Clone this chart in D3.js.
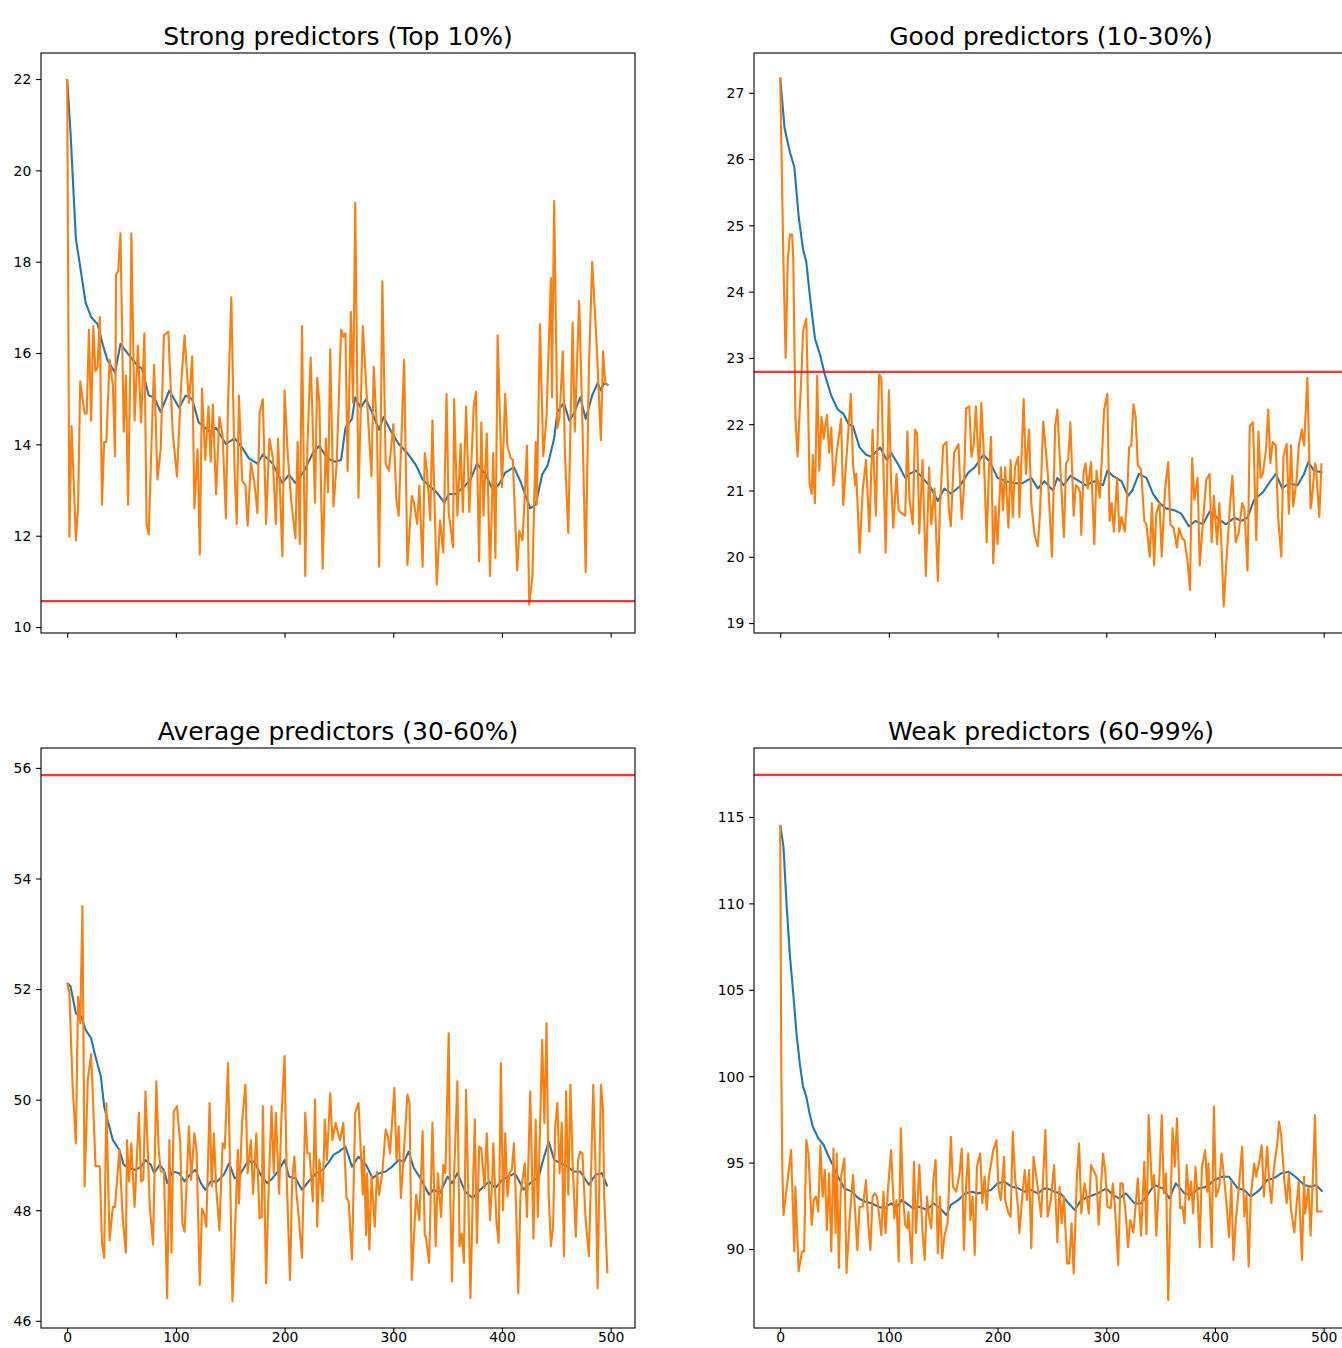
<!DOCTYPE html>
<html>
<head>
<meta charset="utf-8">
<script src="https://cdnjs.cloudflare.com/ajax/libs/d3/7.8.5/d3.min.js"></script>
<style>
body { margin: 0; background: #fff; }
</style>
</head>
<body>
<div id="chart"></div>
<script>
// [iteration, value] pairs
var strongRaw = [[0,22.0],[2,11.98],[4,14.4],[6,13.19],[8,11.9],[10,12.64],[12,15.38],[16,14.68],[18,14.68],[20,16.51],[22,14.52],[24,16.59],[26,15.6],[28,15.7],[30,16.79],[32,12.68],[34,14.05],[36,14.05],[39,15.85],[42,15.3],[44,13.74],[45,17.72],[47,17.8],[49,18.62],[52,14.28],[54,15.5],[56,12.68],[58,15.7],[59,18.62],[62,14.52],[65,16.16],[68,14.48],[71,16.43],[73,12.26],[75,12.03],[79,15.11],[80,15.74],[83,13.23],[86,13.89],[89,16.39],[93,16.47],[97,14.28],[101,13.3],[105,15.38],[108,16.39],[112,14.91],[115,15.93],[117,12.6],[120,13.89],[122,11.59],[124,15.22],[127,13.66],[130,14.83],[132,13.62],[134,14.87],[137,12.91],[140,14.6],[143,14.2],[146,12.38],[148,14.91],[151,17.22],[154,13.4],[156,12.26],[158,15.07],[161,13.2],[164,13.11],[166,12.22],[169,13.6],[172,13.2],[175,12.5],[177,14.68],[180,14.99],[183,12.26],[186,14.13],[189,13.74],[192,12.26],[194,14.13],[198,11.55],[200,15.18],[203,13.74],[206,12.79],[210,11.94],[212,14.05],[214,11.82],[216,16.59],[219,11.12],[221,13.97],[224,15.9],[228,12.72],[230,15.46],[232,14.91],[235,11.28],[238,14.13],[240,12.95],[242,16.08],[245,12.64],[248,13.62],[252,16.51],[254,16.35],[256,16.43],[258,13.42],[261,16.9],[263,14.91],[265,19.29],[268,12.83],[271,15.7],[272,16.59],[276,14.91],[280,13.3],[282,15.7],[285,14.3],[287,11.32],[290,17.57],[293,13.58],[296,13.42],[300,14.44],[303,12.76],[305,12.44],[310,15.85],[313,11.36],[317,12.87],[319,12.72],[322,12.26],[324,13.1],[327,11.32],[329,13.81],[331,13.42],[334,12.34],[336,14.52],[340,10.93],[343,12.34],[346,11.63],[349,15.11],[351,12.5],[355,11.75],[356,14.99],[359,12.44],[362,14.01],[364,12.52],[367,14.83],[370,12.52],[374,14.83],[376,15.15],[379,11.44],[381,14.48],[383,12.44],[386,14.24],[389,11.12],[392,13.81],[394,11.51],[396,16.39],[400,13.07],[403,15.11],[405,13.97],[408,13.7],[410,13.66],[414,11.24],[416,12.1],[419,11.9],[423,13.97],[425,10.49],[428,11.1],[431,14.05],[432,12.68],[435,16.63],[438,13.74],[441,14.6],[445,17.64],[446,15.03],[448,19.33],[451,14.36],[453,14.6],[456,16.04],[458,13.74],[461,12.06],[465,16.67],[467,14.28],[471,17.14],[474,14.52],[477,11.2],[480,15.7],[483,18.0],[487,16.24],[491,14.09],[493,16.04],[495,15.34],[497,15.3]];
var strongSmooth = [[0,22.0],[3,20.85],[8,18.5],[11,18.04],[17,17.1],[22,16.79],[28,16.63],[33,16.16],[37,15.85],[44,15.57],[49,16.2],[54,16.04],[63,15.77],[69,15.65],[75,15.07],[80,15.03],[86,14.71],[94,15.18],[103,14.8],[109,15.07],[115,14.99],[121,14.48],[131,14.28],[137,14.36],[146,14.01],[154,14.13],[161,13.93],[167,13.7],[175,13.58],[180,13.78],[189,13.58],[198,13.15],[204,13.34],[210,13.15],[218,13.42],[226,13.81],[232,13.97],[239,13.7],[246,13.62],[252,13.66],[256,14.36],[262,14.56],[265,15.03],[270,14.8],[275,14.99],[281,14.67],[287,14.32],[291,14.6],[298,14.28],[305,14.01],[313,13.81],[321,13.54],[327,13.23],[334,13.07],[340,12.95],[347,12.72],[351,12.91],[357,12.91],[365,13.07],[371,13.23],[377,13.58],[385,13.34],[391,13.03],[397,13.11],[403,13.38],[411,13.5],[417,13.19],[426,12.6],[431,12.68],[437,13.34],[442,13.54],[448,14.13],[451,14.71],[457,14.91],[462,14.52],[466,14.67],[472,15.03],[477,14.56],[483,15.07],[488,15.34],[491,15.18],[494,15.34],[498,15.3]];

var goodRaw = [[0,27.23],[3,24.42],[5,23.0],[7,24.48],[9,24.86],[11,24.86],[12,24.5],[14,22.11],[16,21.51],[20,22.92],[21,23.4],[24,23.59],[25,22.86],[27,21.11],[29,20.95],[30,21.54],[32,20.81],[34,22.73],[36,21.3],[38,22.11],[40,21.78],[43,22.14],[45,21.57],[47,21.95],[49,21.08],[52,21.57],[56,22.08],[58,20.78],[62,21.73],[65,22.46],[67,21.4],[69,21.08],[70,21.25],[73,20.06],[76,21.03],[79,21.46],[82,20.38],[85,21.92],[86,21.46],[88,20.62],[91,22.75],[93,22.7],[95,21.35],[97,20.06],[100,22.51],[102,21.14],[104,20.44],[107,21.25],[109,20.7],[112,20.65],[115,20.62],[117,21.89],[119,20.86],[122,20.49],[124,21.92],[126,21.86],[128,20.35],[131,21.46],[134,19.71],[137,21.35],[139,20.49],[142,21.03],[145,19.63],[147,20.76],[150,21.68],[153,21.73],[155,20.76],[157,20.46],[160,21.57],[164,21.7],[167,20.57],[169,21.03],[171,22.24],[174,22.27],[176,21.51],[178,21.68],[180,22.27],[183,21.25],[185,22.32],[187,21.68],[190,20.22],[192,21.3],[194,21.81],[196,19.9],[198,20.76],[200,20.19],[203,21.35],[205,20.7],[207,21.35],[210,20.44],[212,21.46],[214,20.6],[216,21.35],[219,21.51],[220,20.6],[224,22.38],[226,21.25],[229,21.92],[231,20.81],[234,20.33],[237,20.16],[239,20.65],[242,22.04],[246,21.3],[250,20.0],[253,21.97],[255,22.22],[258,21.25],[261,20.3],[263,21.41],[265,21.46],[267,22.03],[270,20.62],[272,21.08],[274,21.05],[276,20.97],[277,20.33],[279,21.25],[281,21.41],[283,21.03],[286,21.43],[289,20.19],[291,21.3],[294,20.89],[296,21.49],[298,22.22],[301,22.46],[303,20.54],[305,20.81],[307,20.38],[310,21.19],[312,20.38],[314,20.6],[317,20.38],[319,20.86],[321,21.65],[323,21.68],[325,22.3],[327,22.11],[329,21.38],[332,21.32],[335,20.54],[337,20.49],[340,20.0],[342,20.81],[344,19.87],[346,20.65],[349,20.81],[351,20.0],[354,21.0],[357,21.43],[359,20.49],[362,20.43],[365,20.14],[367,20.43],[370,20.27],[372,20.25],[375,19.9],[377,19.5],[379,21.49],[381,20.86],[384,21.19],[386,19.87],[388,20.33],[392,21.16],[395,21.25],[397,20.22],[399,20.92],[402,20.19],[404,20.81],[406,20.19],[408,19.25],[411,20.06],[414,20.81],[416,21.22],[419,20.22],[422,20.38],[425,20.81],[427,20.73],[430,19.79],[432,21.97],[435,22.03],[438,20.25],[440,21.89],[442,21.19],[444,21.25],[447,21.62],[449,22.22],[451,21.41],[453,21.73],[456,21.68],[458,20.62],[461,20.0],[463,21.51],[466,21.7],[468,20.65],[470,21.68],[472,20.76],[475,21.14],[477,21.65],[480,21.92],[482,21.68],[485,22.7],[488,20.73],[489,20.84],[492,21.41],[493,21.35],[496,20.6],[498,21.41]];
var goodSmooth = [[0,27.23],[4,26.47],[9,26.1],[13,25.88],[17,25.13],[21,24.64],[24,24.45],[28,23.83],[32,23.29],[37,23.03],[41,22.75],[47,22.43],[53,22.22],[58,22.16],[63,22.0],[67,21.97],[73,21.65],[79,21.54],[84,21.51],[92,21.65],[98,21.46],[102,21.57],[109,21.38],[115,21.19],[119,21.25],[125,21.3],[131,21.19],[138,21.06],[145,20.84],[151,21.03],[157,20.95],[165,21.06],[173,21.27],[179,21.35],[187,21.54],[193,21.43],[200,21.19],[208,21.14],[216,21.11],[223,21.11],[231,21.19],[237,21.03],[243,21.14],[251,21.0],[255,21.19],[261,21.08],[267,21.22],[275,21.14],[281,21.08],[289,21.14],[297,21.08],[301,21.3],[306,21.22],[314,21.14],[320,20.92],[324,21.0],[330,21.25],[337,21.19],[343,20.95],[349,20.81],[355,20.73],[363,20.7],[369,20.65],[376,20.46],[382,20.54],[389,20.49],[395,20.68],[402,20.59],[410,20.49],[418,20.59],[424,20.54],[430,20.59],[436,20.86],[444,20.97],[451,21.14],[456,21.25],[462,21.03],[468,21.11],[476,21.08],[482,21.25],[486,21.43],[491,21.3],[499,21.27]];

var avgRaw = [[0,52.11],[2,51.93],[5,50.25],[8,49.21],[10,51.86],[12,51.38],[14,53.5],[16,48.43],[19,50.37],[22,50.82],[24,49.89],[26,48.8],[28,48.8],[30,48.79],[32,47.41],[34,47.14],[36,49.94],[39,47.46],[42,48.06],[44,48.06],[48,49.09],[51,47.88],[54,47.23],[55,49.27],[57,48.52],[59,49.21],[62,48.06],[66,49.76],[68,48.52],[70,48.55],[72,50.15],[74,49.15],[76,48.06],[79,47.38],[82,50.33],[84,49.15],[86,48.7],[89,48.7],[92,46.41],[94,49.27],[96,47.23],[98,49.79],[101,49.88],[104,49.21],[106,47.76],[108,47.61],[112,49.52],[114,48.55],[117,49.39],[119,49.09],[122,46.65],[124,48.03],[126,47.94],[128,47.7],[131,49.94],[133,48.43],[135,49.39],[137,48.43],[140,47.64],[143,49.21],[145,49.12],[148,50.66],[150,48.55],[152,46.35],[154,47.41],[157,49.09],[158,48.12],[161,49.64],[164,50.27],[166,48.67],[169,49.27],[171,48.3],[174,49.39],[177,47.85],[179,47.88],[180,49.88],[183,46.68],[185,48.16],[188,49.88],[190,48.67],[192,49.76],[195,48.3],[197,49.64],[200,50.79],[202,48.55],[205,46.74],[207,48.55],[209,48.97],[211,48.3],[213,47.88],[216,47.14],[219,49.76],[221,49.03],[223,49.03],[226,48.16],[228,50.0],[230,47.7],[232,48.91],[235,48.16],[237,49.64],[239,48.91],[242,50.12],[244,49.27],[247,49.58],[249,49.4],[251,49.27],[254,49.58],[257,48.22],[259,48.16],[262,47.11],[265,49.76],[268,49.94],[272,48.28],[273,49.15],[275,47.55],[276,48.67],[278,47.29],[280,48.61],[283,47.7],[285,48.7],[287,48.28],[290,48.7],[293,49.46],[295,49.33],[297,49.03],[301,50.21],[303,48.91],[305,49.52],[307,48.22],[310,49.12],[313,50.09],[315,49.94],[317,46.74],[321,48.28],[324,47.82],[327,49.43],[329,47.55],[330,47.52],[333,47.05],[336,49.58],[339,47.35],[341,48.67],[344,47.88],[346,48.82],[348,48.67],[351,51.2],[352,48.67],[354,46.71],[356,48.67],[359,50.33],[361,47.35],[363,47.58],[365,47.05],[367,50.18],[369,48.28],[371,46.41],[373,48.16],[375,49.64],[377,47.41],[379,49.15],[381,49.12],[384,48.4],[386,49.39],[389,47.82],[391,48.52],[392,49.21],[395,47.76],[397,47.41],[399,50.66],[401,48.0],[403,49.39],[405,48.25],[407,48.67],[409,48.73],[411,49.21],[413,48.06],[415,46.5],[417,48.28],[421,48.85],[423,47.88],[426,50.15],[429,47.49],[431,49.64],[433,47.88],[437,51.08],[439,49.58],[441,51.38],[443,48.28],[445,47.35],[447,47.7],[449,49.52],[451,49.94],[453,48.67],[455,49.58],[457,47.17],[459,50.15],[461,48.28],[463,50.27],[465,48.85],[468,47.52],[470,48.91],[472,49.06],[474,49.03],[477,47.82],[480,47.17],[482,48.67],[484,50.27],[486,48.85],[488,46.59],[491,50.27],[493,49.82],[494,48.28],[497,46.86]];
var avgSmooth = [[0,52.11],[3,52.05],[8,51.56],[13,51.5],[17,51.26],[22,51.11],[26,50.78],[31,50.42],[34,49.88],[37,49.64],[42,49.27],[48,49.09],[52,48.82],[57,48.76],[63,48.73],[68,48.79],[72,48.91],[77,48.82],[80,48.67],[85,48.82],[89,48.73],[92,48.49],[97,48.7],[103,48.67],[108,48.52],[114,48.67],[118,48.73],[123,48.49],[127,48.37],[132,48.52],[138,48.52],[144,48.64],[149,48.85],[154,48.58],[158,48.61],[166,48.88],[172,48.88],[178,48.64],[184,48.49],[189,48.58],[195,48.73],[200,48.91],[204,48.61],[210,48.58],[216,48.37],[222,48.52],[229,48.67],[235,48.73],[241,48.88],[245,49.0],[250,49.06],[256,49.15],[262,48.79],[268,48.97],[275,48.82],[281,48.58],[287,48.67],[293,48.7],[299,48.79],[305,48.91],[310,48.88],[314,49.06],[319,48.76],[325,48.58],[333,48.28],[337,48.37],[343,48.31],[350,48.61],[354,48.49],[359,48.67],[366,48.34],[373,48.22],[380,48.37],[388,48.52],[394,48.4],[400,48.55],[406,48.61],[412,48.67],[420,48.37],[426,48.49],[434,48.61],[437,48.85],[443,49.24],[448,48.91],[454,48.85],[460,48.79],[466,48.7],[472,48.7],[480,48.46],[486,48.64],[492,48.67],[497,48.43]];

var weakRaw = [[0,114.54],[1,100.5],[2,94.5],[3,91.97],[7,94.09],[10,95.72],[13,89.86],[14,93.61],[17,88.71],[20,89.86],[22,89.86],[24,96.3],[26,95.53],[29,91.39],[31,92.84],[33,93.03],[35,92.16],[37,96.0],[39,93.03],[41,94.57],[43,91.1],[45,94.38],[47,89.86],[49,95.82],[51,90.91],[52,95.53],[54,88.9],[56,94.19],[59,95.24],[61,88.61],[64,91.87],[67,94.28],[71,89.95],[73,92.45],[76,92.45],[79,93.99],[81,91.49],[83,89.95],[85,93.03],[87,93.22],[89,93.03],[91,91.97],[93,90.8],[95,93.32],[97,90.91],[99,93.32],[102,95.72],[105,91.78],[107,92.84],[109,89.28],[111,96.98],[113,93.03],[115,91.39],[117,91.2],[118,92.16],[121,89.18],[123,95.05],[125,90.91],[128,94.86],[131,90.91],[133,89.37],[135,93.03],[137,91.87],[139,91.2],[141,94.09],[143,95.15],[145,89.76],[147,93.03],[149,89.47],[151,90.72],[154,91.49],[157,96.5],[159,93.61],[162,93.32],[165,94.38],[167,95.82],[169,89.95],[171,93.61],[173,95.53],[175,91.68],[177,93.03],[179,89.66],[181,94.76],[184,95.53],[186,92.65],[188,94.19],[190,92.26],[192,94.19],[194,94.95],[196,95.72],[199,96.3],[201,93.41],[203,92.84],[206,95.34],[207,92.84],[210,92.07],[212,91.87],[214,96.8],[216,94.19],[219,92.26],[220,90.91],[223,93.22],[225,94.57],[227,92.84],[229,94.57],[231,90.05],[233,95.34],[236,94.0],[238,93.03],[240,91.87],[242,94.28],[244,96.89],[246,91.87],[249,92.84],[252,94.86],[255,90.4],[257,93.6],[259,91.49],[261,93.03],[264,89.17],[266,89.17],[268,91.49],[270,88.59],[273,94.18],[275,96.11],[277,92.07],[280,93.8],[282,93.03],[284,92.07],[286,94.86],[288,94.57],[291,94.18],[293,91.4],[297,95.53],[299,94.57],[301,92.46],[304,92.36],[306,93.8],[308,92.46],[311,89.08],[313,93.8],[315,93.8],[318,91.97],[320,90.11],[322,91.68],[325,90.96],[327,92.5],[329,94.09],[332,90.77],[335,95.05],[337,90.86],[339,97.75],[342,93.6],[344,94.28],[346,90.77],[349,94.28],[351,97.75],[353,93.22],[355,94.38],[357,87.05],[359,92.26],[361,96.98],[363,94.76],[365,97.56],[368,92.36],[370,92.46],[372,91.49],[374,94.86],[376,92.84],[378,93.9],[380,92.07],[382,94.76],[384,93.13],[386,90.11],[388,94.76],[391,95.72],[393,93.32],[394,94.95],[397,90.11],[399,98.24],[401,93.03],[404,93.6],[406,95.53],[408,94.38],[410,93.03],[413,90.67],[415,93.9],[417,89.37],[419,91.49],[422,93.6],[425,95.91],[427,91.87],[429,93.13],[431,88.98],[433,93.03],[436,94.95],[438,94.18],[441,95.15],[443,96.0],[445,93.03],[448,95.91],[450,93.8],[452,92.65],[454,94.57],[457,95.91],[459,97.37],[461,96.5],[464,93.8],[466,92.65],[468,94.38],[470,92.26],[473,90.96],[475,92.5],[477,93.9],[480,89.37],[482,94.18],[483,92.07],[486,93.6],[488,90.77],[491,95.72],[492,97.75],[494,92.17],[499,92.17]];
var weakSmooth = [[0,114.54],[3,113.28],[6,109.81],[9,106.92],[12,104.79],[15,102.48],[18,100.75],[21,99.4],[24,98.82],[27,97.85],[30,97.08],[35,96.41],[40,96.02],[44,95.44],[49,94.77],[53,94.19],[59,93.51],[66,93.32],[72,92.94],[78,92.74],[84,92.65],[90,92.45],[96,92.36],[102,92.65],[107,92.36],[112,92.84],[118,92.55],[122,92.36],[128,92.45],[135,92.26],[141,92.65],[147,92.36],[153,91.97],[157,92.55],[164,92.84],[170,93.22],[176,93.32],[182,93.22],[188,93.32],[194,93.41],[200,93.8],[206,93.9],[213,93.61],[219,93.51],[225,93.32],[231,93.41],[237,93.22],[243,93.51],[248,93.45],[252,93.32],[258,93.22],[264,92.74],[271,92.26],[277,92.84],[284,93.03],[292,93.22],[300,93.51],[306,93.13],[312,92.93],[318,93.22],[326,92.64],[332,92.64],[338,93.13],[344,93.71],[352,93.51],[358,92.93],[364,93.8],[372,93.22],[378,93.13],[385,93.51],[393,93.61],[399,93.99],[407,94.18],[413,94.18],[421,93.51],[427,93.41],[433,93.03],[441,93.41],[448,93.99],[454,94.09],[461,94.38],[468,94.47],[474,94.18],[482,93.71],[488,93.61],[493,93.71],[499,93.32]];

var titles = ['Strong predictors (Top 10%)', 'Good predictors (10-30%)', 'Average predictors (30-60%)', 'Weak predictors (60-99%)'];
var refLevels = [10.57, 22.79, 55.87, 117.43];
var yLimits = [[9.87, 22.57], [18.85, 27.6], [45.87, 56.36], [85.43, 118.99]];
var xLimits = [-24.1, 522.4];
var yTickValues = [[10, 12, 14, 16, 18, 20, 22], [19, 20, 21, 22, 23, 24, 25, 26, 27], [46, 48, 50, 52, 54, 56], [90, 95, 100, 105, 110, 115]];
var xTickValues = [0, 100, 200, 300, 400, 500];

var svgWidth = 1342,
	svgHeight = 1348,
	axW = 594,
	axH = 580,
	tickLen = 4.86,
	tickPad = 4.86;

var panels = [
	{ raw: strongRaw, smooth: strongSmooth, left: 41, top: 53, labels: false },
	{ raw: goodRaw, smooth: goodSmooth, left: 754, top: 53, labels: false },
	{ raw: avgRaw, smooth: avgSmooth, left: 41, top: 748, labels: true },
	{ raw: weakRaw, smooth: weakSmooth, left: 754, top: 748, labels: true }
];

var svg = d3.select('#chart')
	.append('svg')
	.attr('width', svgWidth)
	.attr('height', svgHeight)
	.style('font-family', '"DejaVu Sans", sans-serif');

var xscale = d3.scaleLinear().domain(xLimits).range([0, axW]);

panels.forEach(function (p, i) {
	var yscale = d3.scaleLinear().domain(yLimits[i]).range([axH, 0]);

	var g = svg.append('g').attr('transform', 'translate(' + p.left + ',' + p.top + ')');

	g.append('clipPath').attr('id', 'clip' + i)
		.append('rect').attr('width', axW).attr('height', axH);

	var plot = g.append('g').attr('clip-path', 'url(#clip' + i + ')');

	var line = d3.line()
		.x(function (d) { return xscale(d[0]); })
		.y(function (d) { return yscale(d[1]); });

	plot.append('path').datum(p.smooth)
		.attr('d', line)
		.attr('fill', 'none')
		.attr('stroke', '#1f77b4')
		.attr('stroke-width', 2.1)
		.attr('stroke-linejoin', 'round');

	plot.append('path').datum(p.raw)
		.attr('d', line)
		.attr('fill', 'none')
		.attr('stroke', '#ff7f0e')
		.attr('stroke-width', 2.1)
		.attr('stroke-linejoin', 'round');

	plot.append('line')
		.attr('x1', 0).attr('x2', axW)
		.attr('y1', yscale(refLevels[i])).attr('y2', yscale(refLevels[i]))
		.attr('stroke', '#ff0000')
		.attr('stroke-opacity', 0.8)
		.attr('stroke-width', 2.2);

	var yAxis = g.append('g')
		.call(d3.axisLeft(yscale).tickValues(yTickValues[i])
			.tickSize(tickLen).tickPadding(tickPad).tickFormat(d3.format('d')));

	var xAxis = g.append('g')
		.attr('transform', 'translate(0,' + axH + ')')
		.call(d3.axisBottom(xscale).tickValues(xTickValues)
			.tickSize(tickLen).tickPadding(tickPad)
			.tickFormat(p.labels ? d3.format('d') : function () { return ''; }));

	[yAxis, xAxis].forEach(function (a) {
		a.select('.domain').remove();
		a.selectAll('.tick line').attr('stroke', '#000').attr('stroke-width', 1.1);
		a.selectAll('.tick text')
			.attr('fill', '#000')
			.style('font-size', '13.9px')
			.style('font-family', '"DejaVu Sans", sans-serif');
	});
	// keep the bottom labels just inside the picture
	xAxis.selectAll('.tick text').attr('y', 4).attr('dy', '0.71em');
	yAxis.selectAll('.tick text').attr('dy', '0.35em');

	g.append('rect')
		.attr('width', axW).attr('height', axH)
		.attr('fill', 'none')
		.attr('stroke', '#000')
		.attr('stroke-width', 1.1);

	g.append('text')
		.attr('x', axW / 2)
		.attr('y', -8.3)
		.attr('text-anchor', 'middle')
		.style('font-size', '25px')
		.attr('fill', '#000')
		.text(titles[i]);
});
</script>
</body>
</html>
